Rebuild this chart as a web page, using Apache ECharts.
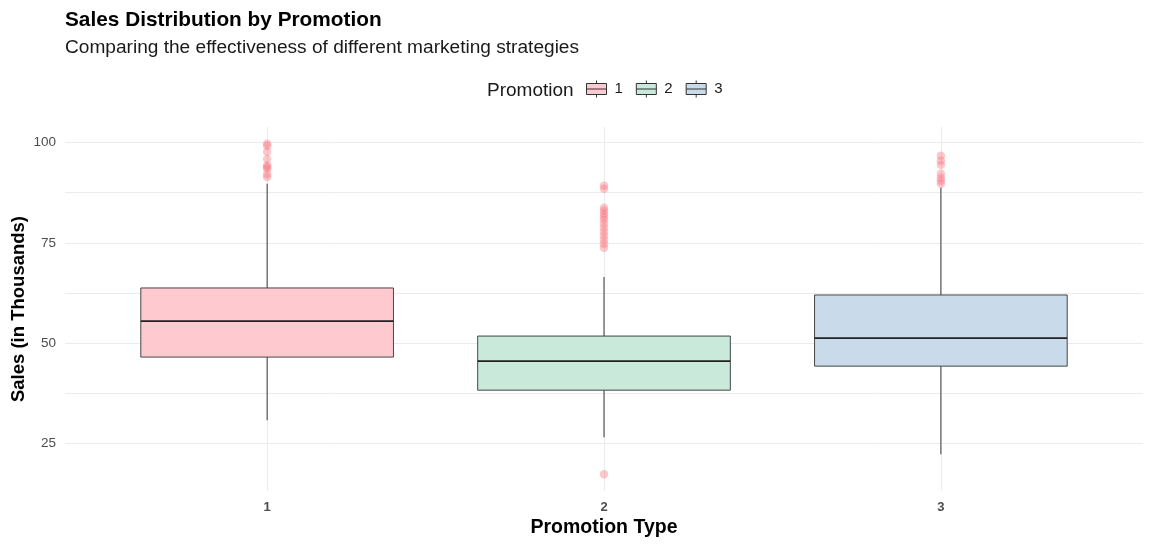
<!DOCTYPE html>
<html><head><meta charset="utf-8">
<script src="https://cdn.jsdelivr.net/npm/echarts@6/dist/echarts.min.js"></script>
<style>html,body{margin:0;padding:0;background:#fff}#c{width:1154px;height:547px}</style>
</head><body><div id="c"></div>
<script>
// Data
const categories = ['1', '2', '3'];
// [min whisker, Q1, median, Q3, max whisker]
const boxStats1 = [30.75, 46.5, 55.5, 63.75, 89.75];
const boxStats2 = [26.5, 38.25, 45.5, 51.75, 66.5];
const boxStats3 = [22.25, 44.25, 51.25, 62.0, 88.75];
const outliers1 = [99.7, 99.2, 97.7, 95.9, 94.3, 93.9, 93.5, 92.1, 91.4];
const outliers2 = [89.25, 88.5, 83.75, 83.0, 82.25, 81.5, 80.75, 79.75, 78.75, 77.75, 76.75, 75.75, 74.75, 73.75, 17.3];
const outliers3 = [96.75, 95.5, 94.5, 92.25, 91.25, 90.5, 89.75];
const yTickLabels = [25, 50, 75, 100];
const yGridValues = [25, 37.5, 50, 62.5, 75, 87.5, 100];

const fills = ['#ffc9d0', '#c9e9db', '#c9dbeb'];
const allStats = [boxStats1, boxStats2, boxStats3];
const allOutliers = [outliers1, outliers2, outliers3];
const FONT = 'Liberation Sans, Arial, sans-serif';

function renderBox(params, api) {
  const x = api.value(0);
  const lo = api.value(1), q1 = api.value(2), med = api.value(3), q3 = api.value(4), hi = api.value(5);
  const halfW = api.size([0.75, 0])[0] / 2;
  const pLo = api.coord([x, lo]), pQ1 = api.coord([x, q1]), pMed = api.coord([x, med]),
        pQ3 = api.coord([x, q3]), pHi = api.coord([x, hi]);
  const cx = pMed[0];
  const lineStyle = { stroke: '#222222', lineWidth: 0.9 };
  return {
    type: 'group',
    children: [
      { type: 'line', shape: { x1: cx, y1: pHi[1], x2: cx, y2: pQ3[1] }, style: lineStyle },
      { type: 'line', shape: { x1: cx, y1: pQ1[1], x2: cx, y2: pLo[1] }, style: lineStyle },
      { type: 'rect', shape: { x: cx - halfW, y: pQ3[1], width: halfW * 2, height: pQ1[1] - pQ3[1] },
        style: { fill: api.visual('color'), stroke: '#333333', lineWidth: 0.9 } },
      { type: 'line', shape: { x1: cx - halfW, y1: pMed[1], x2: cx + halfW, y2: pMed[1] },
        style: { stroke: '#222222', lineWidth: 1.8 } }
    ]
  };
}

const series = [];
categories.forEach((cat, i) => {
  series.push({
    name: cat,
    type: 'custom',
    renderItem: renderBox,
    itemStyle: { color: fills[i] },
    encode: { x: 0, y: [1, 2, 3, 4, 5] },
    data: [[i + 1].concat(allStats[i])],
    z: 2
  });
});
categories.forEach((cat, i) => {
  series.push({
    name: 'out' + cat,
    type: 'scatter',
    symbolSize: 8.5,
    itemStyle: { color: 'rgba(250,115,128,0.5)' },
    data: allOutliers[i].map(v => [i + 1, v]),
    z: 3
  });
});

const boxIcon = 'path://M10,0L10,3M0,3L20,3L20,14L0,14ZM0,8.5L20,8.5M10,14L10,17';

const chart = echarts.init(document.getElementById('c'), null, { renderer: 'canvas' });
chart.setOption({
  animation: false,
  backgroundColor: '#ffffff',
  textStyle: { fontFamily: FONT },
  title: [
    { text: 'Sales Distribution by Promotion', left: 60, top: 5,
      textStyle: { fontSize: 20.8, fontWeight: 'bold', color: '#000', fontFamily: FONT } },
    { text: 'Comparing the effectiveness of different marketing strategies', left: 60, top: 33,
      textStyle: { fontSize: 19.1, fontWeight: 'normal', color: '#1a1a1a', fontFamily: FONT } },
    { text: 'Promotion', left: 482, top: 76,
      textStyle: { fontSize: 19, fontWeight: 'normal', color: '#1a1a1a', fontFamily: FONT } }
  ],
  legend: {
    data: categories,
    left: 581, top: 75,
    itemWidth: 20, itemHeight: 18, itemGap: 13,
    icon: boxIcon,
    itemStyle: { borderColor: '#333333', borderWidth: 1 },
    textStyle: { fontSize: 15, color: '#1a1a1a', fontFamily: FONT, padding: [0, 0, 0, 3] }
  },
  grid: { left: 65, right: 11, top: 127, bottom: 56, containLabel: false, outerBoundsMode: 'none' },
  xAxis: {
    type: 'value', min: 0.4, max: 3.6,
    name: 'Promotion Type', nameLocation: 'middle', nameGap: 27, nameMoveOverlap: false,
    nameTextStyle: { fontSize: 19.5, fontWeight: 'bold', color: '#000' },
    axisLine: { show: false },
    axisTick: { show: false, customValues: [1, 2, 3] },
    axisLabel: { customValues: [1, 2, 3], fontSize: 13, fontWeight: 'bold', color: '#4d4d4d', margin: 10,
      formatter: v => String(Math.round(v)) },
    splitLine: { show: true, lineStyle: { color: '#ebebeb', width: 1 } }
  },
  yAxis: {
    type: 'value', min: 13.1, max: 103.9,
    name: 'Sales (in Thousands)', nameLocation: 'middle', nameGap: 37, nameMoveOverlap: false,
    nameTextStyle: { fontSize: 18.5, fontWeight: 'bold', color: '#000' },
    axisLine: { show: false },
    axisTick: { show: false, customValues: yGridValues },
    axisLabel: { customValues: yTickLabels, fontSize: 13.5, color: '#4d4d4d', margin: 9 },
    splitLine: { show: true, lineStyle: { color: '#ebebeb', width: 1 } }
  },
  series: series
});
</script></body></html>
